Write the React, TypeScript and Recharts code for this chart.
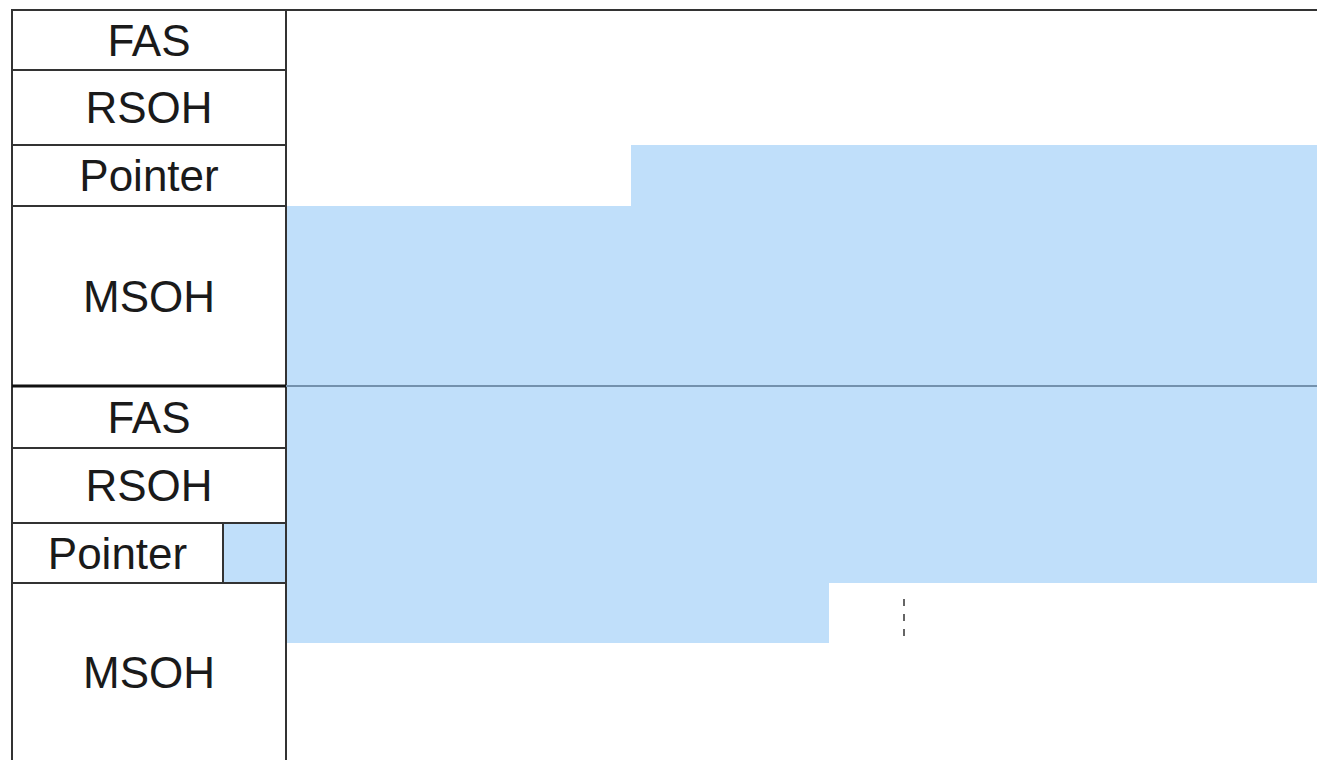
import React from "react";
import { ComposedChart, XAxis, YAxis, ReferenceArea, ReferenceLine } from "recharts";

// two consecutive frames: overhead column on the left, payload to the right
const rowLabels = ["FAS", "RSOH", "Pointer", "MSOH", "FAS", "RSOH", "Pointer", "MSOH"];
const rowEdges = [0, 60, 135, 196, 376, 438, 513, 573, 752];
const overheadEnd = 274;
const frameEnd = 1305;
const frameBoundary = 376;

// shaded payload (VC) blocks, in frame units
const payloadX1 = [619, 274, 274, 211];
const payloadX2 = [1305, 1305, 817, 274];
const payloadY1 = [135, 196, 573, 513];
const payloadY2 = [196, 573, 633, 573];

// dashed marker inside the second frame
const markerX = 892;
const markerY = [589, 634];

const BLUE = "#c0dffa";
const FONT = "'Liberation Sans', Arial, sans-serif";

export default function App() {
  return (
    <div style={{ position: "fixed", left: 0, top: 0, width: 1317, height: 760, overflow: "hidden", background: "#fff" }}>
      <ComposedChart
        width={1317}
        height={780}
        data={[{ x: 0, y: 0 }]}
        margin={{ top: 10, left: 12, right: 0, bottom: 10 }}
      >
        <XAxis type="number" dataKey="x" domain={[0, frameEnd]} hide allowDataOverflow />
        <YAxis type="number" dataKey="y" domain={[0, 760]} reversed hide allowDataOverflow />

        {/* overhead cells */}
        {rowLabels.map((label, i) => (
          <ReferenceArea
            key={"oh" + i}
            x1={0}
            x2={overheadEnd}
            y1={rowEdges[i]}
            y2={rowEdges[i + 1]}
            fill="#fff"
            fillOpacity={1}
            stroke="#333"
            strokeWidth={2}
            ifOverflow="visible"
          />
        ))}

        {/* payload blocks */}
        {payloadX1.map((x1, i) => (
          <ReferenceArea
            key={"pl" + i}
            x1={x1}
            x2={payloadX2[i]}
            y1={payloadY1[i]}
            y2={payloadY2[i]}
            fill={BLUE}
            fillOpacity={1}
            stroke={i === 3 ? "#333" : "none"}
            strokeWidth={i === 3 ? 2 : 0}
            ifOverflow="visible"
          />
        ))}

        {/* labels (pointer in second frame is shifted left by the blue cell) */}
        {rowLabels.map((label, i) => (
          <ReferenceArea
            key={"lb" + i}
            x1={0}
            x2={i === 6 ? payloadX1[3] : overheadEnd}
            y1={rowEdges[i]}
            y2={rowEdges[i + 1]}
            fill="none"
            stroke="none"
            ifOverflow="visible"
            label={{ value: label, position: "center", fill: "#1a1a1a", fontSize: 44, fontFamily: FONT }}
          />
        ))}

        <ReferenceLine
          segment={[{ x: overheadEnd, y: 0 }, { x: frameEnd, y: 0 }]}
          stroke="#333"
          strokeWidth={2}
          ifOverflow="visible"
        />
        <ReferenceLine
          segment={[{ x: overheadEnd, y: 0 }, { x: overheadEnd, y: 760 }]}
          stroke="#333"
          strokeWidth={2}
          ifOverflow="visible"
        />
        <ReferenceLine
          segment={[{ x: overheadEnd, y: frameBoundary }, { x: frameEnd, y: frameBoundary }]}
          stroke="#7391ad"
          strokeWidth={2}
          ifOverflow="visible"
        />
        <ReferenceLine
          segment={[{ x: 0, y: frameBoundary }, { x: overheadEnd, y: frameBoundary }]}
          stroke="#111"
          strokeWidth={3}
          ifOverflow="visible"
        />
        <ReferenceLine
          segment={[{ x: markerX, y: markerY[0] }, { x: markerX, y: markerY[1] }]}
          stroke="#333"
          strokeWidth={1.5}
          strokeDasharray="7 8"
          ifOverflow="visible"
        />
      </ComposedChart>
    </div>
  );
}
